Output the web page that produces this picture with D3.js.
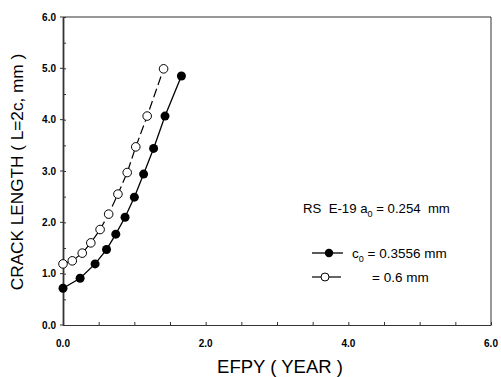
<!DOCTYPE html>
<html><head><meta charset="utf-8">
<script src="https://cdn.jsdelivr.net/npm/d3@7"></script>
<style>body{margin:0;background:#fff}svg{display:block}text{font-family:Arial,"Liberation Sans",sans-serif;fill:#000;white-space:pre}</style>
</head><body><svg id="c" width="501" height="377"></svg>
<script>
const xFilled = [0, 0.24, 0.45, 0.61, 0.74, 0.87, 1.0, 1.13, 1.27, 1.43, 1.66];
const yFilled = [0.715, 0.91, 1.19, 1.47, 1.77, 2.10, 2.49, 2.94, 3.44, 4.07, 4.85];
const xOpen = [0, 0.13, 0.27, 0.39, 0.52, 0.64, 0.77, 0.90, 1.02, 1.18, 1.41];
const yOpen = [1.19, 1.25, 1.40, 1.60, 1.86, 2.16, 2.55, 2.97, 3.47, 4.07, 4.99];
const xTicks = [0, 2, 4, 6];
const yTicks = [0, 1, 2, 3, 4, 5, 6];
const xLabel = "EFPY ( YEAR )";
const yLabel = "CRACK LENGTH ( L=2c, mm )";

const svg = d3.select("#c");
const L = 63, R = 491, T = 17, B = 325;
const x = d3.scaleLinear().domain([0, 6]).range([L, R]);
const y = d3.scaleLinear().domain([0, 6]).range([B, T]);

// frame
svg.append("line").attr("x1", L).attr("x2", R).attr("y1", T).attr("y2", T).attr("stroke", "#333").attr("stroke-width", 1);
svg.append("line").attr("x1", R).attr("x2", R).attr("y1", T).attr("y2", B).attr("stroke", "#333").attr("stroke-width", 1);

// x axis
const xAxis = d3.axisBottom(x).tickValues(d3.range(0, 6.01, 0.5)).tickSizeInner(-3).tickSizeOuter(0).tickFormat("");
const gx = svg.append("g").attr("transform", `translate(0,${B})`).call(xAxis);
gx.select(".domain").attr("stroke", "#333");
gx.selectAll(".tick line").attr("stroke", "#333");
svg.append("g").selectAll("text").data(xTicks).join("text")
  .attr("x", d => x(d)).attr("y", 347).attr("text-anchor", "middle")
  .attr("font-size", 10).attr("font-weight", "bold").text(d => d.toFixed(1));

// y axis
const yAxis = d3.axisLeft(y).tickValues(d3.range(0, 6.01, 0.5)).tickSizeInner(-3).tickSizeOuter(0).tickFormat("");
const gy = svg.append("g").attr("transform", `translate(${L},0)`).call(yAxis);
gy.select(".domain").attr("stroke", "#333").attr("stroke-width", 1.8);
gy.selectAll(".tick line").attr("stroke", "#333");
svg.append("g").selectAll("line").data(yTicks).join("line")
  .attr("x1", L - 3).attr("x2", L).attr("y1", d => y(d)).attr("y2", d => y(d)).attr("stroke", "#333");
svg.append("g").selectAll("text").data(yTicks).join("text")
  .attr("x", 56).attr("y", d => y(d) + 3.5).attr("text-anchor", "end")
  .attr("font-size", 10).attr("font-weight", "bold").text(d => d.toFixed(1));

// axis titles
svg.append("text").attr("x", 280).attr("y", 373).attr("text-anchor", "middle").attr("font-size", 18.5).text(xLabel);
svg.append("text").attr("transform", "translate(23,172) rotate(-90)").attr("text-anchor", "middle").attr("font-size", 17.2).text(yLabel);

const line = d3.line().x(d => x(d[0])).y(d => y(d[1]));
const filled = xFilled.map((v, i) => [v, yFilled[i]]);
const open = xOpen.map((v, i) => [v, yOpen[i]]);

svg.append("path").datum(filled).attr("d", line).attr("fill", "none").attr("stroke", "#000").attr("stroke-width", 1.3);
svg.append("path").datum(open).attr("d", line).attr("fill", "none").attr("stroke", "#000").attr("stroke-width", 1.2).attr("stroke-dasharray", "9,4");

svg.append("g").selectAll("circle").data(filled).join("circle")
  .attr("cx", d => x(d[0])).attr("cy", d => y(d[1])).attr("r", 4.5).attr("fill", "#000");
svg.append("g").selectAll("circle").data(open).join("circle")
  .attr("cx", d => x(d[0])).attr("cy", d => y(d[1])).attr("r", 4.3).attr("fill", "#fff").attr("stroke", "#000").attr("stroke-width", 1);

// annotation
const ann = svg.append("text").attr("x", 303).attr("y", 213).attr("font-size", 13.2);
ann.append("tspan").text("RS  E-19 a");
ann.append("tspan").attr("font-size", 9).attr("dy", 4).text("0");
ann.append("tspan").attr("dy", -4).text(" = 0.254  mm");

// legend
svg.append("line").attr("x1", 312).attr("x2", 343).attr("y1", 253).attr("y2", 253).attr("stroke", "#000").attr("stroke-width", 1.3);
svg.append("circle").attr("cx", 329).attr("cy", 253).attr("r", 4.2).attr("fill", "#000");
const l1 = svg.append("text").attr("x", 352).attr("y", 258).attr("font-size", 13.5);
l1.append("tspan").text("c");
l1.append("tspan").attr("font-size", 9).attr("dy", 4).text("0");
l1.append("tspan").attr("dy", -4).text(" = 0.3556 mm");

svg.append("line").attr("x1", 312).attr("x2", 341).attr("y1", 277).attr("y2", 277).attr("stroke", "#000").attr("stroke-width", 1.2);
svg.append("circle").attr("cx", 325).attr("cy", 277).attr("r", 4).attr("fill", "#fff").attr("stroke", "#000");
svg.append("text").attr("x", 372).attr("y", 282).attr("font-size", 13.5).text("= 0.6 mm");
</script></body></html>
